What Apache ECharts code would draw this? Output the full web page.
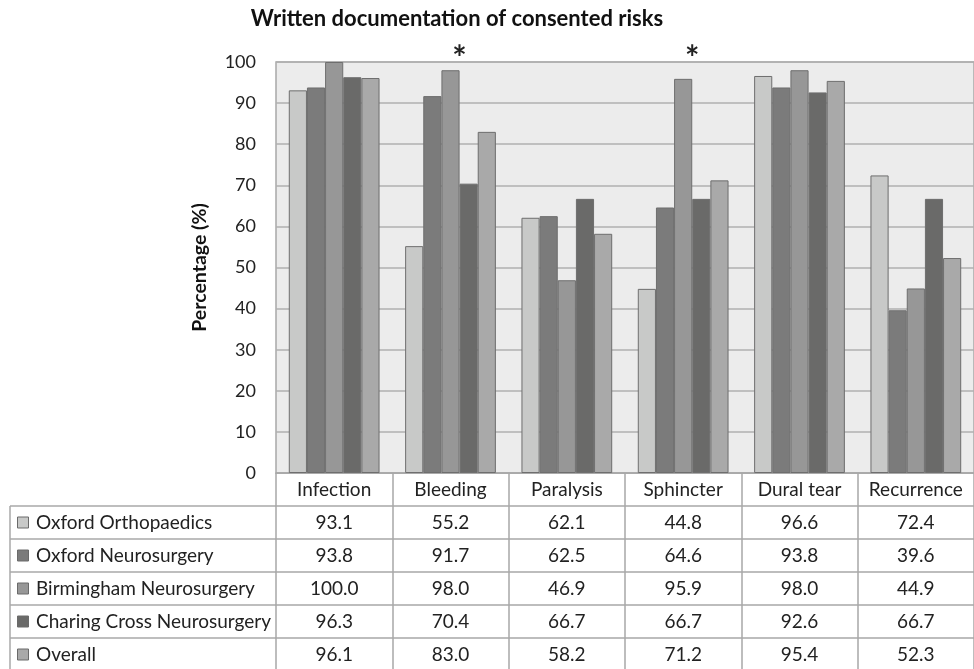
<!DOCTYPE html>
<html><head><meta charset="utf-8">
<script src="https://cdn.jsdelivr.net/npm/echarts@6/dist/echarts.min.js"></script>
<style>html,body{margin:0;padding:0;background:#fff}#c{width:974px;height:669px}</style>
</head><body><div id="c"></div>
<script>
const categories = ['Infection', 'Bleeding', 'Paralysis', 'Sphincter', 'Dural tear', 'Recurrence'];
const seriesNames = ['Oxford Orthopaedics', 'Oxford Neurosurgery', 'Birmingham Neurosurgery', 'Charing Cross Neurosurgery', 'Overall'];
const oxfordOrthopaedics = [93.1, 55.2, 62.1, 44.8, 96.6, 72.4];
const oxfordNeurosurgery = [93.8, 91.7, 62.5, 64.6, 93.8, 39.6];
const birminghamNeurosurgery = [100.0, 98.0, 46.9, 95.9, 98.0, 44.9];
const charingCrossNeurosurgery = [96.3, 70.4, 66.7, 66.7, 92.6, 66.7];
const overall = [96.1, 83.0, 58.2, 71.2, 95.4, 52.3];
const significance = ['', '*', '', '*', '', ''];
const titleText = 'Written documentation of consented risks';
const yAxisName = 'Percentage (%)';

const seriesValues = [oxfordOrthopaedics, oxfordNeurosurgery, birminghamNeurosurgery, charingCrossNeurosurgery, overall];
const colors = ['#c8c9c8', '#7b7b7b', '#979797', '#6a6a69', '#a9a9a9'];

const FONT = 'Lato';
const GRID_LEFT = 276, GRID_TOP = 62, GRID_W = 710, GRID_H = 411;
const ROW_H = 33;
const TABLE_TOP = GRID_TOP + GRID_H;
const LINE = '#a8a8a8';
const TXT = '#222';
const CELL_FS = 19;

const chart = echarts.init(document.getElementById('c'), null, {renderer: 'canvas'});

const xAxes = [];
// header row: category names
xAxes.push({
  type: 'category', data: categories, position: 'bottom', gridIndex: 0,
  axisLine: {show: true, lineStyle: {color: LINE, width: 1.5}},
  axisTick: {show: true, interval: 0, length: ROW_H, lineStyle: {color: LINE, width: 1.5}},
  axisLabel: {interval: 0, margin: ROW_H / 2, verticalAlign: 'middle', fontFamily: FONT, fontSize: CELL_FS, color: TXT}
});
// value rows
seriesValues.forEach((vals, k) => {
  xAxes.push({
    type: 'category', data: categories, position: 'bottom', offset: ROW_H * (k + 1), gridIndex: 0,
    axisLine: {show: true, lineStyle: {color: LINE, width: 1.5}},
    axisTick: {show: true, interval: 0, length: ROW_H, lineStyle: {color: LINE, width: 1.5}},
    axisLabel: {interval: 0, margin: ROW_H / 2, verticalAlign: 'middle', fontFamily: FONT, fontSize: CELL_FS, color: TXT,
      formatter: (v, i) => vals[i].toFixed(1)}
  });
});
// significance markers on top
xAxes.push({
  type: 'category', data: categories, position: 'top', gridIndex: 0,
  axisLine: {show: false}, axisTick: {show: false},
  axisLabel: {interval: 0, margin: -14, fontFamily: FONT, fontSize: 34, fontWeight: 'bold', color: TXT, padding: [0, 0, 0, 18],
    formatter: (v, i) => significance[i]}
});

const graphics = [];
// left table column
const colLeft = 10;
for (let i = 0; i < seriesNames.length; i++) {
  const yTop = TABLE_TOP + ROW_H * (i + 1);
  const cy = yTop + ROW_H / 2;
  graphics.push({type: 'line', shape: {x1: colLeft, y1: yTop, x2: GRID_LEFT, y2: yTop}, style: {stroke: LINE, lineWidth: 1.5}, silent: true});
  graphics.push({type: 'rect', shape: {x: 17.5, y: cy - 5.5, width: 11, height: 11}, style: {fill: colors[i], stroke: '#6a6a6a', lineWidth: 1}, silent: true});
  graphics.push({type: 'text', x: 36, y: cy, style: {text: seriesNames[i], font: CELL_FS + 'px ' + FONT, fill: TXT, textVerticalAlign: 'middle', verticalAlign: 'middle'}, silent: true});
}
graphics.push({type: 'line', shape: {x1: colLeft, y1: TABLE_TOP + ROW_H, x2: colLeft, y2: TABLE_TOP + ROW_H * 6}, style: {stroke: LINE, lineWidth: 1.5}, silent: true});

const option = {
  backgroundColor: '#ffffff',
  animation: false,
  title: {
    text: titleText, left: 457, top: 8, padding: 0, textAlign: 'center',
    textStyle: {fontFamily: FONT, fontSize: 22, fontWeight: 'bold', color: '#111'}
  },
  grid: {left: GRID_LEFT, top: GRID_TOP, width: GRID_W, height: GRID_H, show: true, backgroundColor: '#ececec', borderColor: LINE, borderWidth: 1.5, containLabel: false},
  xAxis: xAxes,
  yAxis: {
    type: 'value', min: 0, max: 100, interval: 10,
    name: yAxisName, nameLocation: 'middle', nameGap: 66, nameRotate: 90,
    nameTextStyle: {fontFamily: FONT, fontSize: 19.5, fontWeight: 'bold', color: '#111'},
    axisLine: {show: false}, axisTick: {show: false},
    axisLabel: {margin: 20, fontFamily: FONT, fontSize: 18, color: TXT},
    splitLine: {show: true, lineStyle: {color: '#b0b0b0', width: 1.5}}
  },
  series: seriesNames.map((name, i) => ({
    name, type: 'bar', xAxisIndex: 0, data: seriesValues[i],
    barGap: '0%', barCategoryGap: '22%',
    itemStyle: {color: colors[i], borderColor: '#6e6e6e', borderWidth: 1},
    silent: true
  })),
  graphic: graphics
};
chart.setOption(option);
</script>
</body></html>
